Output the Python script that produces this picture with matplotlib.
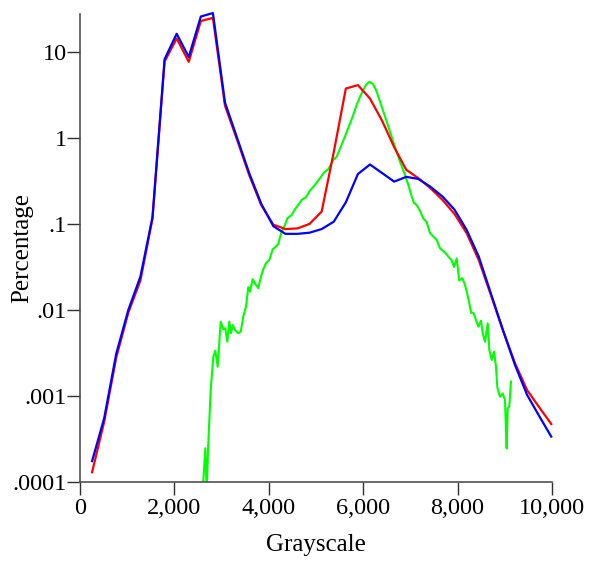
import numpy as np
import matplotlib
matplotlib.use("Agg")
import matplotlib.pyplot as plt
from matplotlib.ticker import FixedLocator, FixedFormatter, NullLocator

plt.rcParams['font.family'] = ['Liberation Serif', 'DejaVu Serif']

# coarse histograms, bins of 256 grey levels
bins = np.arange(1, 40) * 256

red = [1.3e-4, 5.0e-4, 2.8e-3, 9.3e-3, 0.022, 0.115, 7.7, 14.3, 7.65, 22.8,
       24.8, 2.36, 0.95, 0.37, 0.165, 0.098, 0.087, 0.0886, 0.1, 0.139,
       0.68, 3.74, 4.1, 2.86, 1.58, 0.78, 0.425, 0.34, 0.26, 0.19,
       0.13, 0.078, 0.038, 0.015, 0.0058, 0.0024, 1.17e-3, 7.4e-4, 4.72e-4]

blue = [1.75e-4, 5.5e-4, 3.1e-3, 0.01, 0.0244, 0.12, 8.2, 16.2, 8.7, 25.7,
        28.2, 2.57, 1.0, 0.39, 0.171, 0.094, 0.0766, 0.0766, 0.079, 0.087,
        0.106, 0.178, 0.38, 0.49, 0.39, 0.31, 0.352, 0.333, 0.27, 0.208,
        0.146, 0.085, 0.0417, 0.0156, 0.00585, 0.00229, 1.03e-3, 5.85e-4, 3.37e-4]

# fine histogram
green_x = [2595, 2655, 2684, 2718, 2769, 2824, 2867, 2917, 2981, 3036,
           3078, 3121, 3163, 3199, 3235, 3284, 3354, 3405, 3460, 3517,
           3566, 3602, 3659, 3714, 3778, 3835, 3883, 3941, 4011, 4083,
           4153, 4201, 4263, 4343, 4392, 4485, 4555, 4625, 4697, 4788,
           4873, 4979, 5085, 5169, 5261, 5367, 5439, 5614, 5778, 5875,
           5968, 6059, 6129, 6201, 6271, 6356, 6462, 6568, 6674, 6780,
           6886, 6956, 7028, 7076, 7133, 7203, 7273, 7345, 7415, 7500,
           7557, 7627, 7733, 7803, 7875, 7924, 7981, 8034, 8100, 8157,
           8199, 8248, 8288, 8333, 8390, 8438, 8496, 8532, 8581, 8638,
           8672, 8722, 8771, 8814, 8841, 8898, 8955, 9004, 9025, 9040,
           9061, 9095, 9131]
green_y = [7e-5, 2.47e-4, 8e-5, 2.8e-4, 1.17e-3, 2.86e-3, 3.36e-3, 2.19e-3, 7.3e-3, 5.97e-3,
           6.13e-3, 4.28e-3, 7.3e-3, 5.36e-3, 6.69e-3, 5.85e-3, 5.36e-3, 5.6e-3, 8.36e-3, 0.0109,
           0.0184, 0.0163, 0.0228, 0.02, 0.0179, 0.0244, 0.0297, 0.0349, 0.0381, 0.0508,
           0.0545, 0.0585, 0.0786, 0.0973, 0.116, 0.127, 0.148, 0.166, 0.19, 0.204,
           0.244, 0.284, 0.34, 0.395, 0.432, 0.555, 0.606, 1.035, 1.77, 2.53,
           3.31, 4.13, 4.48, 4.25, 3.61, 2.64, 1.77, 1.18, 0.78, 0.526,
           0.371, 0.284, 0.208, 0.175, 0.166, 0.142, 0.116, 0.105, 0.078, 0.07,
           0.0651, 0.0521, 0.0466, 0.0417, 0.0376, 0.0316, 0.0397, 0.022, 0.0234, 0.0195,
           0.0158, 0.012, 9.2e-3, 9.3e-3, 7.65e-3, 6.4e-3, 7.5e-3, 5.36e-3, 4.28e-3, 7.0e-3,
           3.43e-3, 2.62e-3, 3.28e-3, 2.19e-3, 1.26e-3, 9.8e-4, 1.07e-3, 8.98e-4, 4.0e-4, 2.46e-4,
           7.2e-4, 7.5e-4, 1.47e-3]

y_ticks = [1e-4, 1e-3, 1e-2, 1e-1, 1, 10]
y_labels = ['.0001', '.001', '.01', '.1', '1', '10']
x_ticks = [0, 2000, 4000, 6000, 8000, 10000]
x_labels = ['0', '2,000', '4,000', '6,000', '8,000', '10,000']

fig = plt.figure(figsize=(6, 5.75), dpi=100)
ax = fig.add_axes([80/600, 93/575, 472/600, 468/575])

ax.plot(green_x, green_y, color='#00ff00', lw=1.5)
ax.plot(bins, red, color='#ff0000', lw=1.6, clip_on=False)
ax.plot(bins, blue, color='#0000ff', lw=1.6, clip_on=False)

ax.set_yscale('log')
ax.set_xlim(0, 10000)
ax.set_ylim(1e-4, 27.5)

ax.yaxis.set_major_locator(FixedLocator(y_ticks))
ax.yaxis.set_major_formatter(FixedFormatter(y_labels))
ax.yaxis.set_minor_locator(NullLocator())
ax.set_xticks(x_ticks)
ax.set_xticklabels(x_labels)

for s in ['top', 'right']:
    ax.spines[s].set_visible(False)
for s in ['left', 'bottom']:
    ax.spines[s].set_color('#505050')
    ax.spines[s].set_linewidth(1.2)

ax.tick_params(axis='both', direction='out', length=9.5, width=1.0,
               color='#303030', labelsize=17.5)
ax.tick_params(axis='y', pad=0)
ax.tick_params(axis='x', pad=2)

fig.text(316/600, 1 - 545/575, 'Grayscale', ha='center', va='center', fontsize=18)
fig.text(22/600, 1 - 248/575, 'Percentage', ha='center', va='center',
         rotation=90, fontsize=18)

fig.savefig('out.png', dpi=100)
